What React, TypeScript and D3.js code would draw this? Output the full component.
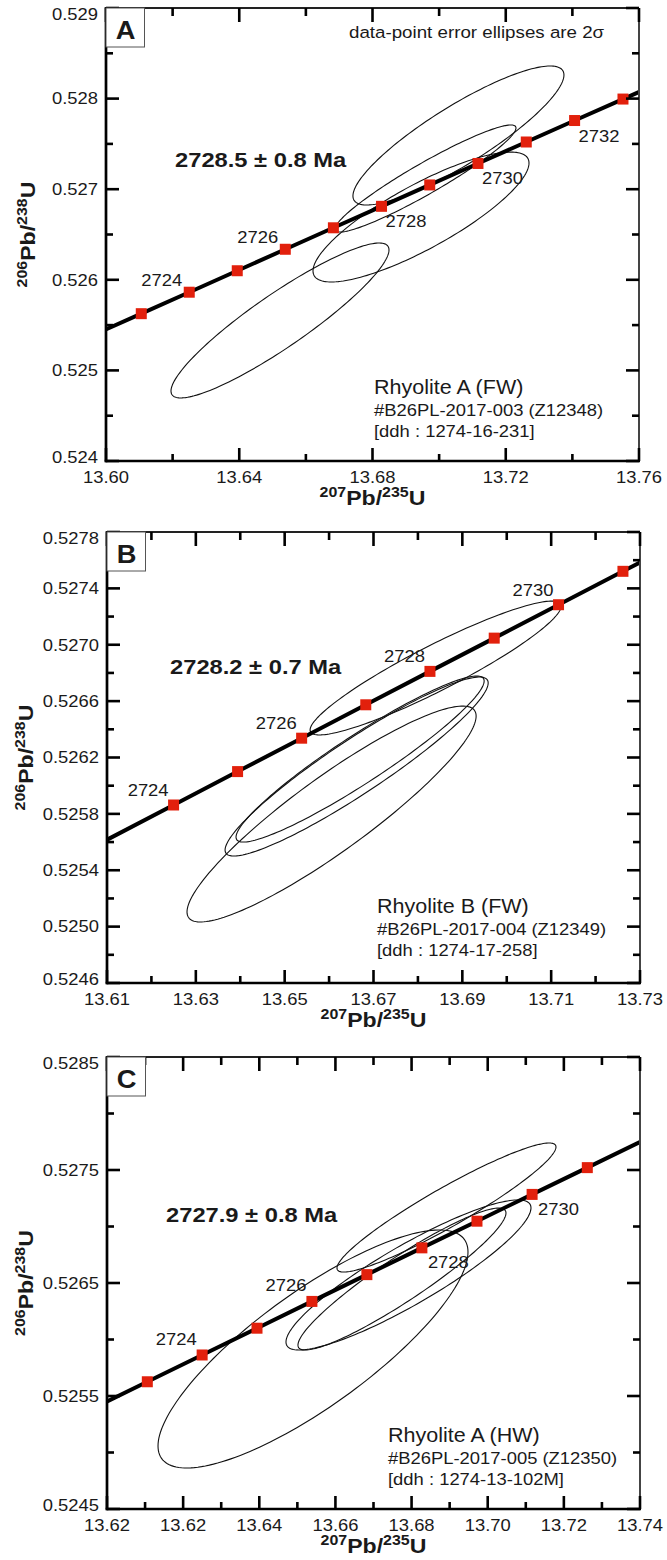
import React from 'react';
import * as d3 from 'd3';

// Concordia reference points (age in Ma, 207Pb/235U, 206Pb/238U)
const CONC_AGES = [2720, 2721, 2722, 2723, 2724, 2725, 2726, 2727, 2728, 2729, 2730, 2731, 2732, 2733, 2734, 2735];
const CONC_R75 = [13.56749, 13.58184, 13.59621, 13.61059, 13.62499, 13.6394, 13.65382, 13.66826, 13.68271, 13.69718, 13.71166, 13.72616, 13.74067, 13.75519, 13.76973, 13.78428];
const CONC_R68 = [0.524916, 0.525153, 0.52539, 0.525626, 0.525863, 0.5261, 0.526337, 0.526574, 0.526811, 0.527047, 0.527284, 0.527521, 0.527758, 0.527995, 0.528232, 0.528469];

// Panel A
const A_X_TICKS = [13.6, 13.64, 13.68, 13.72, 13.76];
const A_X_LABELS = ['13.60', '13.64', '13.68', '13.72', '13.76'];
const A_X_MINOR = [13.62, 13.66, 13.7, 13.74];
const A_Y_TICKS = [0.524, 0.525, 0.526, 0.527, 0.528, 0.529];
const A_Y_LABELS = ['0.524', '0.525', '0.526', '0.527', '0.528', '0.529'];
const A_Y_MINOR = [0.5245, 0.5255, 0.5265, 0.5275, 0.5285];
const A_MARK_AGES = [2723, 2724, 2725, 2726, 2727, 2728, 2729, 2730, 2731, 2732, 2733];
const A_LABEL_AGES = [2724, 2726, 2728, 2730, 2732];
// ellipses: [x, 2σx, y, 2σy, rho]
const A_ELLIPSES = [
  [13.7058, 0.03167, 0.527593, 0.000767, 0.87],
  [13.6959, 0.02717, 0.527118, 0.000591, 0.944],
  [13.69456, 0.03242, 0.526693, 0.000717, 0.83],
  [13.65223, 0.03272, 0.525551, 0.000855, 0.91],
];

// Panel B
const B_X_TICKS = [13.61, 13.63, 13.65, 13.67, 13.69, 13.71, 13.73];
const B_X_LABELS = ['13.61', '13.63', '13.65', '13.67', '13.69', '13.71', '13.73'];
const B_X_MINOR = [13.62, 13.64, 13.66, 13.68, 13.7, 13.72];
const B_Y_TICKS = [0.5246, 0.525, 0.5254, 0.5258, 0.5262, 0.5266, 0.527, 0.5274, 0.5278];
const B_Y_LABELS = ['0.5246', '0.5250', '0.5254', '0.5258', '0.5262', '0.5266', '0.5270', '0.5274', '0.5278'];
const B_Y_MINOR = [0.5248, 0.5252, 0.5256, 0.526, 0.5264, 0.5268, 0.5272, 0.5276];
const B_MARK_AGES = [2724, 2725, 2726, 2727, 2728, 2729, 2730, 2731];
const B_LABEL_AGES = [2724, 2726, 2728, 2730];
const B_ELLIPSES = [
  [13.68399, 0.028266, 0.526835, 0.000475, 0.925],
  [13.6662, 0.029618, 0.526136, 0.000635, 0.933],
  [13.66698, 0.02793, 0.526189, 0.000589, 0.94],
  [13.66056, 0.032546, 0.525799, 0.000766, 0.907],
];

// Panel C
const C_X_TICKS = [13.6, 13.62, 13.64, 13.66, 13.68, 13.7, 13.72, 13.74];
const C_X_LABELS = ['13.62', '13.62', '13.64', '13.66', '13.68', '13.70', '13.72', '13.74'];
const C_X_MINOR = [13.61, 13.63, 13.65, 13.67, 13.69, 13.71, 13.73];
const C_Y_TICKS = [0.5245, 0.5255, 0.5265, 0.5275, 0.5285];
const C_Y_LABELS = ['0.5245', '0.5255', '0.5265', '0.5275', '0.5285'];
const C_Y_MINOR = [0.525, 0.526, 0.527, 0.528];
const C_MARK_AGES = [2723, 2724, 2725, 2726, 2727, 2728, 2729, 2730, 2731];
const C_LABEL_AGES = [2724, 2726, 2728, 2730];
const C_ELLIPSES = [
  [13.68917, 0.028761, 0.527168, 0.000571, 0.938],
  [13.65411, 0.04071, 0.525916, 0.001053, 0.815],
  [13.67919, 0.032176, 0.526571, 0.000664, 0.893],
  [13.67748, 0.027317, 0.526535, 0.000628, 0.93],
];

const FONT = "'Liberation Sans', Arial, Helvetica, sans-serif";
const SX = 1.13;

type TProps = {
  x: number; y: number; size: number; sx?: number; anchor?: string; bold?: boolean; rotate?: number; children: React.ReactNode;
};
const T = ({ x, y, size, sx = SX, anchor = 'start', bold = false, rotate = 0, children }: TProps) => (
  <text
    transform={`translate(${x},${y})${rotate ? ` rotate(${rotate})` : ''} scale(${sx},1)`}
    fontSize={size}
    textAnchor={anchor as any}
    fontWeight={bold ? 'bold' : 'normal'}
    fontFamily={FONT}
    fill="#1a1a1a"
  >
    {children}
  </text>
);

const AxisTitle = ({ a, b, x, y, rotate = 0 }: { a: string; b: string; x: number; y: number; rotate?: number }) => (
  <T x={x} y={y} size={21} sx={1.1} bold anchor="middle" rotate={rotate}>
    <tspan fontSize={14.5} dy={-8}>{a}</tspan>
    <tspan dy={8}>Pb/</tspan>
    <tspan fontSize={14.5} dy={-8}>{b}</tspan>
    <tspan dy={8}>U</tspan>
  </T>
);

type PanelCfg = {
  id: string;
  letter: string;
  box: { left: number; right: number; top: number; bottom: number };
  xDomain: [number, number];
  yDomain: [number, number];
  xTicks: number[]; xLabels: string[]; xMinor: number[];
  yTicks: number[]; yLabels: string[]; yMinor: number[];
  markAges: number[]; labelAges: number[];
  ellipses: number[][];
  age: string;
  sample: string[];
  samplePos: [number, number];
  agePos: [number, number];
  labelBelowFrom: number; // ages >= this labelled below-right
  aboveOff: [number, number];
  belowOff: [number, number];
  yTitleX: number;
};

const Panel = ({ c }: { c: PanelCfg }) => {
  const { left, right, top, bottom } = c.box;
  const x = d3.scaleLinear().domain(c.xDomain).range([left, right]);
  const y = d3.scaleLinear().domain(c.yDomain).range([bottom, top]);
  const MAJ = 13, MIN = 7;
  const concPts: [number, number][] = CONC_AGES.map((_, i) => [x(CONC_R75[i]), y(CONC_R68[i])]);
  const line = d3.line()(concPts) || '';
  const ellPath = (e: number[]) => {
    const [cx, sx, cy, sy, rho] = e;
    const pts: [number, number][] = d3.range(0, 360, 2).map((deg) => {
      const t = (deg * Math.PI) / 180;
      return [x(cx + sx * Math.cos(t)), y(cy + sy * (rho * Math.cos(t) + Math.sqrt(1 - rho * rho) * Math.sin(t)))];
    });
    return (d3.line()(pts) || '') + 'Z';
  };
  const idx = (age: number) => CONC_AGES.indexOf(age);
  const clipId = `clip-${c.id}`;
  return (
    <g>
      <defs>
        <clipPath id={clipId}>
          <rect x={left} y={top} width={right - left} height={bottom - top} />
        </clipPath>
      </defs>
      {/* ellipses */}
      <g fill="none" stroke="#111" strokeWidth={1.1}>
        {c.ellipses.map((e, i) => (
          <path key={i} d={ellPath(e)} />
        ))}
      </g>
      {/* concordia */}
      <path d={line} fill="none" stroke="#000" strokeWidth={4} clipPath={`url(#${clipId})`} />
      {c.markAges.map((a) => (
        <rect key={a} x={x(CONC_R75[idx(a)]) - 5.5} y={y(CONC_R68[idx(a)]) - 5.5} width={11} height={11} fill="#e2200c" />
      ))}
      {c.labelAges.map((a) => {
        const px = x(CONC_R75[idx(a)]);
        const py = y(CONC_R68[idx(a)]);
        const below = a >= c.labelBelowFrom;
        return below ? (
          <T key={a} x={px + c.belowOff[0]} y={py + c.belowOff[1]} size={16.3}>{String(a)}</T>
        ) : (
          <T key={a} x={px + c.aboveOff[0]} y={py + c.aboveOff[1]} size={16.3} anchor="end">{String(a)}</T>
        );
      })}
      {/* frame */}
      <line x1={left} x2={right} y1={top} y2={top} stroke="#222" strokeWidth={2} />
      <line x1={right} x2={right} y1={top} y2={bottom} stroke="#444" strokeWidth={2} />
      <line x1={left} x2={left} y1={top - 1} y2={bottom + 1.3} stroke="#000" strokeWidth={2.7} />
      <line x1={left - 1.3} x2={right + 1} y1={bottom} y2={bottom} stroke="#000" strokeWidth={2.7} />
      {/* ticks */}
      <g stroke="#000" strokeWidth={2.6}>
        {c.xTicks.map((t) => (
          <g key={'xt' + t}>
            <line x1={x(t)} x2={x(t)} y1={bottom} y2={bottom - MAJ} />
            <line x1={x(t)} x2={x(t)} y1={top} y2={top + MAJ + 1} />
          </g>
        ))}
        {c.xMinor.map((t) => (
          <g key={'xm' + t}>
            <line x1={x(t)} x2={x(t)} y1={bottom} y2={bottom - MIN} />
            <line x1={x(t)} x2={x(t)} y1={top} y2={top + MIN + 1} />
          </g>
        ))}
        {c.yTicks.map((t) => (
          <g key={'yt' + t}>
            <line x1={left} x2={left + MAJ} y1={y(t)} y2={y(t)} />
            <line x1={right} x2={right - MAJ} y1={y(t)} y2={y(t)} />
          </g>
        ))}
        {c.yMinor.map((t) => (
          <g key={'ym' + t}>
            <line x1={left} x2={left + MIN} y1={y(t)} y2={y(t)} />
            <line x1={right} x2={right - MIN} y1={y(t)} y2={y(t)} />
          </g>
        ))}
      </g>
      {/* tick labels */}
      {c.xTicks.map((t, i) => (
        <T key={'xl' + i} x={x(t)} y={bottom + 22} size={16.3} anchor="middle">{c.xLabels[i]}</T>
      ))}
      {c.yTicks.map((t, i) => {
        let yy = y(t) + 5.8;
        if (i === c.yTicks.length - 1) yy += 6;
        if (i === 0) yy -= 4;
        return (
          <T key={'yl' + i} x={left - 8} y={yy} size={16.3} anchor="end">{c.yLabels[i]}</T>
        );
      })}
      {/* axis titles */}
      <AxisTitle a="207" b="235" x={(left + right) / 2} y={bottom + 44} />
      <AxisTitle a="206" b="238" x={c.yTitleX} y={(top + bottom) / 2} rotate={-90} />
      {/* letter box */}
      <rect x={left} y={top} width={38.5} height={39} fill="#fff" stroke="#555" strokeWidth={1} />
      <T x={left + 19.5} y={top + 30.5} size={26} sx={1.05} bold anchor="middle">{c.letter}</T>
      {/* age */}
      <T x={c.agePos[0]} y={c.agePos[1]} size={21} bold>{c.age}</T>
      {/* sample */}
      <T x={c.samplePos[0]} y={c.samplePos[1]} size={20.3} sx={1.06}>{c.sample[0]}</T>
      <T x={c.samplePos[0]} y={c.samplePos[1] + 21.5} size={16.3} sx={1.13}>{c.sample[1]}</T>
      <T x={c.samplePos[0]} y={c.samplePos[1] + 43} size={16.3} sx={1.13}>{c.sample[2]}</T>
    </g>
  );
};

const PANELS: PanelCfg[] = [
  {
    id: 'A', letter: 'A',
    box: { left: 106, right: 639, top: 8, bottom: 461 },
    xDomain: [13.6, 13.76], yDomain: [0.524, 0.529],
    xTicks: A_X_TICKS, xLabels: A_X_LABELS, xMinor: A_X_MINOR,
    yTicks: A_Y_TICKS, yLabels: A_Y_LABELS, yMinor: A_Y_MINOR,
    markAges: A_MARK_AGES, labelAges: A_LABEL_AGES, ellipses: A_ELLIPSES,
    age: '2728.5 ± 0.8 Ma',
    sample: ['Rhyolite A (FW)', '#B26PL-2017-003 (Z12348)', '[ddh : 1274-16-231]'],
    samplePos: [374, 394], agePos: [175, 167],
    labelBelowFrom: 2728, aboveOff: [-7, -6], belowOff: [4, 21], yTitleX: 35,
  },
  {
    id: 'B', letter: 'B',
    box: { left: 107, right: 640, top: 532, bottom: 983 },
    xDomain: [13.61, 13.73], yDomain: [0.5246, 0.5278],
    xTicks: B_X_TICKS, xLabels: B_X_LABELS, xMinor: B_X_MINOR,
    yTicks: B_Y_TICKS, yLabels: B_Y_LABELS, yMinor: B_Y_MINOR,
    markAges: B_MARK_AGES, labelAges: B_LABEL_AGES, ellipses: B_ELLIPSES,
    age: '2728.2 ± 0.7 Ma',
    sample: ['Rhyolite B (FW)', '#B26PL-2017-004 (Z12349)', '[ddh : 1274-17-258]'],
    samplePos: [377, 913], agePos: [170, 674],
    labelBelowFrom: 9999, aboveOff: [-5, -9], belowOff: [5, 20], yTitleX: 33,
  },
  {
    id: 'C', letter: 'C',
    box: { left: 107, right: 640, top: 1057, bottom: 1509 },
    xDomain: [13.6, 13.74], yDomain: [0.5245, 0.5285],
    xTicks: C_X_TICKS, xLabels: C_X_LABELS, xMinor: C_X_MINOR,
    yTicks: C_Y_TICKS, yLabels: C_Y_LABELS, yMinor: C_Y_MINOR,
    markAges: C_MARK_AGES, labelAges: C_LABEL_AGES, ellipses: C_ELLIPSES,
    age: '2727.9 ± 0.8 Ma',
    sample: ['Rhyolite A (HW)', '#B26PL-2017-005 (Z12350)', '[ddh : 1274-13-102M]'],
    samplePos: [388, 1442], agePos: [166, 1222],
    labelBelowFrom: 2728, aboveOff: [-5.5, -10], belowOff: [6, 20.5], yTitleX: 33,
  },
];

export default function App() {
  return (
    <svg width={667} height={1560} style={{ position: 'absolute', left: 0, top: 0, background: '#fff' }}>
      <rect x={0} y={0} width={667} height={1560} fill="#fff" />
      {PANELS.map((p) => (
        <Panel key={p.id} c={p} />
      ))}
      <T x={349} y={38} size={16.3} sx={1.15}>data-point error ellipses are 2σ</T>
    </svg>
  );
}
